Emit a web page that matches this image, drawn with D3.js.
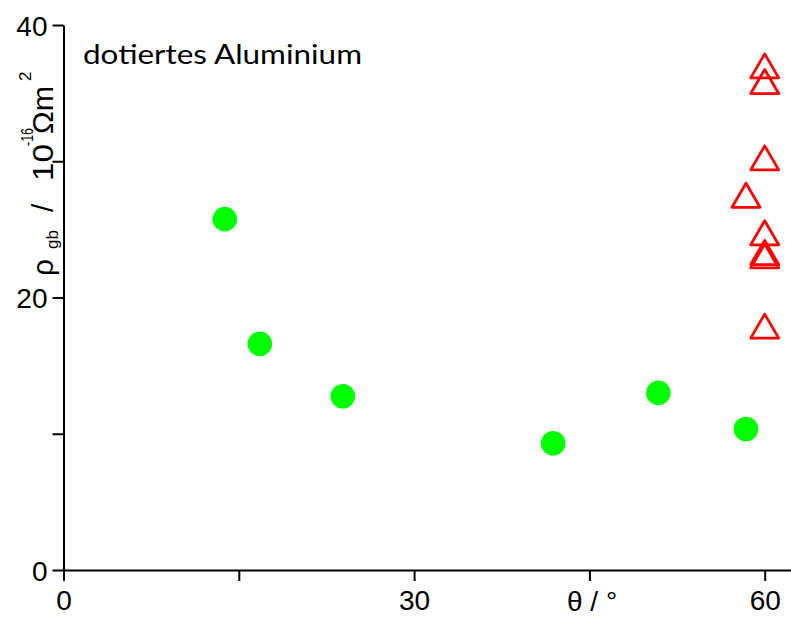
<!DOCTYPE html>
<html><head><meta charset="utf-8">
<script src="https://cdn.jsdelivr.net/npm/d3@7"></script>
<style>body{margin:0;background:#fff}svg{display:block}</style>
</head><body>
<script>
// Data
const dotX = [13.8, 16.8, 23.9, 41.9, 50.9, 58.4];
const dotY = [25.75, 16.6, 12.75, 9.3, 13.0, 10.35];
const triX = [60, 60, 60, 58.4, 60, 60, 60, 60];
const triY = [37.0, 35.85, 30.25, 27.5, 24.75, 23.3, 23.05, 17.9];
const xTicks = [0, 15, 30, 45, 60];
const xTickLabels = ["0", "", "30", "", "60"];
const yTicks = [0, 10, 20, 30, 40];
const yTickLabels = ["0", "", "20", "", "40"];
const title = "dotiertes Aluminium";

const W = 791, H = 619;
const svg = d3.select("body").append("svg").attr("width", W).attr("height", H);

const x = d3.scaleLinear().domain([0, 62.25]).range([63.5, 791]);
const y = d3.scaleLinear().domain([0, 40]).range([570, 25]);

const font = "'Liberation Sans', Arial, sans-serif";

// X axis
const gx = svg.append("g").attr("transform", `translate(0,${y(0)})`)
  .call(d3.axisBottom(x).tickValues(xTicks).tickSize(11).tickSizeOuter(0)
    .tickFormat((d, i) => xTickLabels[i]));
// Y axis
const gy = svg.append("g").attr("transform", `translate(${x(0)},0)`)
  .call(d3.axisLeft(y).tickValues(yTicks).tickSize(11).tickSizeOuter(0)
    .tickFormat((d, i) => yTickLabels[i]));

[gx, gy].forEach(g => {
  g.select(".domain").attr("stroke", "#000").attr("stroke-width", 2);
  g.selectAll(".tick line").attr("stroke", "#000").attr("stroke-width", 2);
  g.selectAll(".tick text").attr("font-family", font).attr("font-size", 28).attr("fill", "#000")
    .attr("transform", null);
});
gx.selectAll(".tick text").attr("dy", null).attr("y", 40);
gy.selectAll(".tick text").attr("x", -16).attr("dy", "0.36em");

// Title
svg.append("text").attr("x", 83).attr("y", 64)
  .attr("font-family", "Lato, 'Open Sans', sans-serif").attr("font-size", 27)
  .attr("textLength", 279).attr("lengthAdjust", "spacingAndGlyphs")
  .text(title);

// X label
svg.append("text").attr("x", 567).attr("y", 611)
  .attr("font-family", font).attr("font-size", 28).text("θ / °");

// Y label
const yl = svg.append("text").attr("transform", "translate(53,276) rotate(-90)")
  .attr("font-family", font).attr("font-size", 30);
yl.append("tspan").attr("x", 0).attr("y", 0).text("ρ");
yl.append("tspan").attr("x", 27).attr("y", 5).attr("font-size", 17).text("gb");
yl.append("tspan").attr("x", 64).attr("y", 0).text("/");
yl.append("tspan").attr("x", 95).attr("y", 0).attr("textLength", 37).attr("lengthAdjust", "spacingAndGlyphs").text("10");
yl.append("tspan").attr("x", 130).attr("y", -20).attr("font-size", 16).attr("textLength", 18).attr("lengthAdjust", "spacingAndGlyphs").text("-16");
yl.append("tspan").attr("x", 142).attr("y", 0).attr("textLength", 48).attr("lengthAdjust", "spacingAndGlyphs").text("Ωm");
yl.append("tspan").attr("x", 195).attr("y", -22).attr("font-size", 17).text("2");

// Green dots
svg.append("g").selectAll("circle").data(dotX).join("circle")
  .attr("cx", d => x(d)).attr("cy", (d, i) => y(dotY[i])).attr("r", 12.3)
  .attr("fill", "#00ff00");

// Red triangles
const tw = 28, th = 24;
svg.append("g").selectAll("path").data(triX).join("path")
  .attr("d", (d, i) => {
    const cx = x(d), cy = y(triY[i]);
    return `M${cx},${cy - th / 2}L${cx + tw / 2},${cy + th / 2}L${cx - tw / 2},${cy + th / 2}Z`;
  })
  .attr("fill", "none").attr("stroke", "#ff0000").attr("stroke-width", 2.8)
  .attr("stroke-linejoin", "round");
</script>
</body></html>
